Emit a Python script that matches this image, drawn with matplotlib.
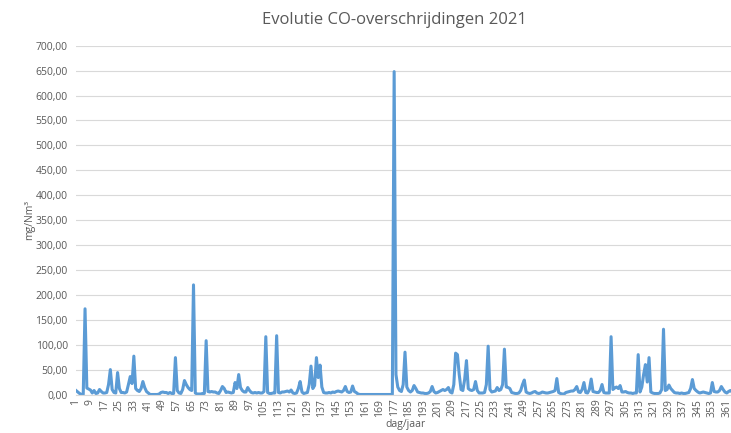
import matplotlib
matplotlib.use("Agg")
import matplotlib.pyplot as plt
from matplotlib.ticker import FuncFormatter, MultipleLocator
import numpy as np

# CO-overschrijdingen per dag (mg/Nm3)
co_values = [
    8, 5, 2, 0, 0, 172, 13, 11, 9, 3,          # 1-10
    8, 2, 3, 10, 6, 3, 3, 4, 20, 50,           # 11-20
    10, 4, 3, 44, 12, 4, 4, 3, 5, 20,          # 21-30
    36, 22, 77, 12, 8, 6, 12, 26, 14, 6,       # 31-40
    3, 0, 0, 0, 0, 0, 1, 4, 5, 4,              # 41-50
    4, 2, 4, 2, 2, 74, 8, 3, 2, 10,            # 51-60
    28, 20, 14, 10, 8, 220, 3, 1, 1, 1,        # 61-70
    2, 2, 108, 6, 5, 6, 5, 5, 3, 2,            # 71-80
    8, 16, 12, 4, 5, 4, 3, 4, 24, 12,          # 81-90
    40, 14, 8, 5, 5, 14, 8, 4, 3, 4,           # 91-100
    3, 4, 3, 3, 6, 116, 4, 2, 2, 3,            # 101-110
    3, 118, 4, 3, 5, 5, 6, 7, 5, 9,            # 111-120
    3, 2, 3, 12, 26, 5, 2, 3, 4, 20,           # 121-130
    57, 12, 18, 74, 34, 59, 15, 4, 3, 3,       # 131-140
    4, 3, 5, 4, 6, 7, 6, 5, 8, 16,             # 141-150
    6, 4, 5, 17, 6, 4, 1, 0, 0, 0,             # 151-160
    0, 0, 0, 0, 0, 0, 0, 0, 0, 0,              # 161-170
    0, 0, 0, 0, 0, 0, 648, 40, 15, 8,          # 171-180
    6, 20, 85, 15, 8, 5, 8, 18, 12, 5,         # 181-190
    4, 3, 3, 2, 2, 3, 6, 16, 6, 3,             # 191-200
    4, 6, 8, 10, 8, 10, 14, 5, 3, 20,          # 201-210
    83, 80, 40, 10, 8, 30, 68, 12, 9, 8,       # 211-220
    10, 26, 8, 3, 3, 3, 4, 20, 97, 10,         # 221-230
    5, 6, 7, 14, 8, 10, 20, 91, 15, 14,        # 231-240
    12, 4, 3, 2, 2, 3, 8, 20, 29, 5,           # 241-250
    3, 2, 3, 5, 6, 3, 2, 3, 5, 4,              # 251-260
    3, 3, 4, 5, 6, 8, 32, 4, 2, 1,             # 261-270
    1, 4, 5, 6, 7, 7, 10, 16, 5, 4,            # 271-280
    10, 24, 4, 3, 10, 31, 6, 5, 4, 4,          # 281-290
    8, 20, 4, 3, 3, 3, 116, 10, 13, 15,        # 291-300
    12, 18, 5, 5, 6, 4, 3, 3, 2, 3,            # 301-310
    3, 80, 5, 15, 40, 60, 25, 74, 5, 3,        # 311-320
    2, 2, 2, 3, 10, 131, 8, 10, 19, 12,        # 321-330
    8, 4, 3, 3, 2, 3, 2, 2, 3, 4,              # 331-340
    12, 30, 12, 8, 5, 3, 4, 5, 4, 3,           # 341-350
    2, 3, 24, 6, 5, 5, 8, 16, 10, 5,           # 351-360
    3, 6, 8, 5, 4,                             # 361-365
]
days = np.arange(1, len(co_values) + 1)
x_ticks = list(range(1, 366, 8))

plt.rcParams['font.family'] = ['Open Sans', 'DejaVu Sans']
grey = '#595959'

W, H = 731, 433
fig = plt.figure(figsize=(W / 100, H / 100), dpi=100)
# plot area in pixels: x 76..734, y 45.7..394.5
ax = fig.add_axes([76 / W, (H - 394.5) / H, (734 - 76) / W, (394.5 - 45.7) / H])

ax.plot(days, co_values, color='#5B9BD5', lw=2.2, solid_joinstyle='round')

ax.set_xlim(1, 365)
ax.set_ylim(0, 700)
ax.yaxis.set_major_locator(MultipleLocator(50))
ax.yaxis.set_major_formatter(FuncFormatter(lambda v, p: f"{v:.2f}".replace('.', ',')))
ax.set_xticks(x_ticks)
ax.set_xticklabels([str(t) for t in x_ticks], rotation=90)
ax.grid(axis='y', color='#D9D9D9', lw=0.8)
ax.set_axisbelow(True)
for s in ['top', 'right', 'left']:
    ax.spines[s].set_visible(False)
ax.spines['bottom'].set_color('#D9D9D9')
ax.tick_params(axis='both', length=0, colors=grey, labelsize=7.5)
ax.tick_params(axis='x', pad=3)
ax.tick_params(axis='y', pad=6)

fig.text(394 / W, 1 - 20 / H, 'Evolutie CO-overschrijdingen 2021', ha='center', va='center',
         fontsize=12, color=grey)
fig.text(405 / W, 1 - 425 / H, 'dag/jaar', ha='center', va='center', fontsize=7.5, color=grey)
fig.text(30 / W, 1 - 220 / H, 'mg/Nm³', ha='center', va='center', rotation=90, fontsize=7.5, color=grey)

fig.savefig('out.png', dpi=100)
